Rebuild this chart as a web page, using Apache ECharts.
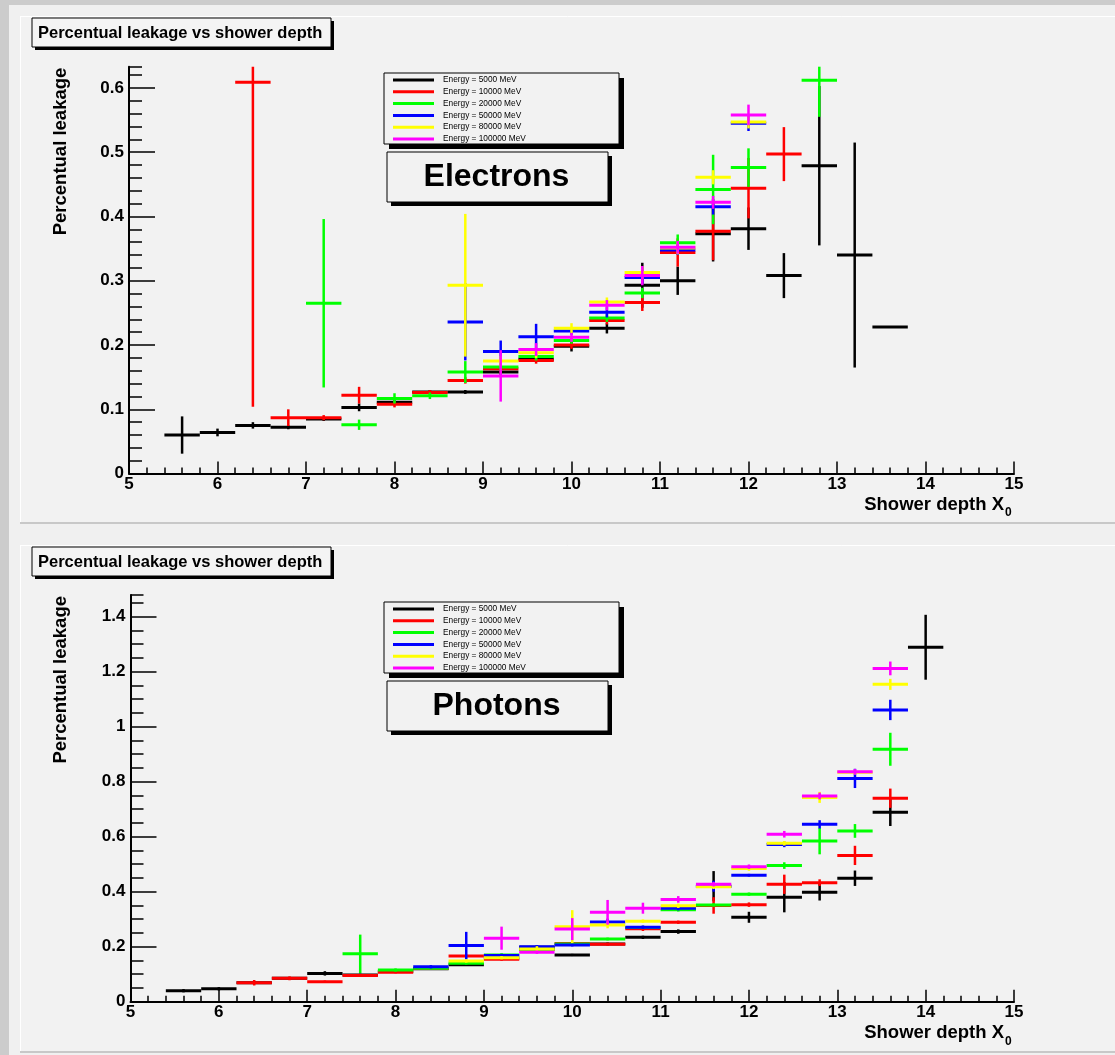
<!DOCTYPE html>
<html>
<head>
<meta charset="utf-8">
<script src="https://cdn.jsdelivr.net/npm/echarts@6/dist/echarts.min.js"></script>
<style>
  html, body { margin: 0; padding: 0; background: #cccccc; }
  #chart { width: 1115px; height: 1055px; }
</style>
</head>
<body>
<div id="chart"></div>
<script>
// Shower depth bin centres (radiation lengths); each bin is 0.4 X0 wide
const depthBins = [5.6, 6.0, 6.4, 6.8, 7.2, 7.6, 8.0, 8.4, 8.8, 9.2, 9.6, 10.0, 10.4, 10.8, 11.2, 11.6, 12.0, 12.4, 12.8, 13.2, 13.6, 14.0];
const binHalfWidth = 0.2;

const energyLabels = ['Energy = 5000 MeV', 'Energy = 10000 MeV', 'Energy = 20000 MeV', 'Energy = 50000 MeV', 'Energy = 80000 MeV', 'Energy = 100000 MeV'];
const energyColors = ['#000000', '#ff0000', '#00ff00', '#0000ff', '#ffff00', '#ff00ff'];

// Electrons: leakage fraction and its uncertainty per depth bin
const eleVal5000   = [0.060, 0.064, 0.075, 0.072, 0.085, 0.103, 0.111, 0.127, 0.127, 0.158, 0.178, 0.198, 0.226, 0.293, 0.300, 0.373, 0.381, 0.308, 0.479, 0.340, 0.228, null];
const eleErr5000   = [0.029, 0.006, 0.005, 0.003, 0.003, 0.006, 0.003, 0.003, 0.003, 0.005, 0.004, 0.008, 0.008, 0.035, 0.022, 0.043, 0.033, 0.035, 0.124, 0.175, 0.000, null];
const eleVal10000  = [null, null, 0.609, 0.087, 0.087, 0.122, 0.108, 0.126, 0.145, 0.163, 0.176, 0.200, 0.238, 0.266, 0.344, 0.377, 0.444, 0.497, null, null, null, null];
const eleErr10000  = [null, null, 0.505, 0.013, 0.004, 0.013, 0.005, 0.004, 0.005, 0.006, 0.005, 0.006, 0.006, 0.013, 0.022, 0.045, 0.047, 0.042, null, null, null, null];
const eleVal20000  = [null, null, null, null, 0.265, 0.076, 0.117, 0.121, 0.158, 0.166, 0.182, 0.207, 0.242, 0.281, 0.359, 0.442, 0.476, null, 0.612, null, null, null];
const eleErr20000  = [null, null, null, null, 0.131, 0.008, 0.008, 0.005, 0.017, 0.006, 0.006, 0.005, 0.006, 0.008, 0.013, 0.054, 0.030, null, 0.057, null, null, null];
const eleVal50000  = [null, null, null, null, null, null, null, null, 0.236, 0.190, 0.213, 0.222, 0.251, 0.305, 0.348, 0.415, 0.545, null, null, null, null, null];
const eleErr50000  = [null, null, null, null, null, null, null, null, 0.060, 0.017, 0.020, 0.006, 0.008, 0.010, 0.008, 0.012, 0.012, null, null, null, null, null];
const eleVal80000  = [null, null, null, null, null, null, null, null, 0.293, 0.175, 0.188, 0.226, 0.267, 0.313, 0.351, 0.461, 0.547, null, null, null, null, null];
const eleErr80000  = [null, null, null, null, null, null, null, null, 0.111, 0.008, 0.008, 0.008, 0.007, 0.010, 0.010, 0.011, 0.010, null, null, null, null, null];
const eleVal100000 = [null, null, null, null, null, null, null, null, null, 0.152, 0.193, 0.212, 0.262, 0.308, 0.352, 0.422, 0.558, null, null, null, null, null];
const eleErr100000 = [null, null, null, null, null, null, null, null, null, 0.040, 0.010, 0.007, 0.008, 0.015, 0.010, 0.010, 0.016, null, null, null, null, null];

// Photons: leakage fraction and its uncertainty per depth bin
const phoVal5000   = [0.040, 0.047, 0.069, 0.085, 0.103, 0.097, 0.110, 0.120, 0.134, 0.158, 0.198, 0.170, 0.210, 0.234, 0.255, 0.420, 0.307, 0.380, 0.398, 0.449, 0.689, 1.289];
const phoErr5000   = [0.006, 0.006, 0.005, 0.005, 0.008, 0.005, 0.004, 0.004, 0.004, 0.005, 0.008, 0.004, 0.005, 0.006, 0.008, 0.055, 0.020, 0.055, 0.030, 0.028, 0.050, 0.118];
const phoVal10000  = [null, null, 0.069, 0.085, 0.073, 0.095, 0.107, 0.121, 0.166, 0.154, 0.190, 0.212, 0.209, 0.265, 0.289, 0.350, 0.353, 0.427, 0.433, 0.532, 0.740, null];
const phoErr10000  = [null, null, 0.010, 0.007, 0.004, 0.005, 0.004, 0.004, 0.005, 0.005, 0.005, 0.005, 0.005, 0.008, 0.006, 0.030, 0.008, 0.035, 0.012, 0.035, 0.035, null];
const phoVal20000  = [null, null, null, null, null, 0.174, 0.115, 0.122, 0.140, 0.170, 0.190, 0.210, 0.228, 0.270, 0.334, 0.352, 0.391, 0.495, 0.584, 0.621, 0.918, null];
const phoErr20000  = [null, null, null, null, null, 0.070, 0.006, 0.004, 0.005, 0.006, 0.005, 0.005, 0.005, 0.006, 0.006, 0.006, 0.006, 0.012, 0.048, 0.025, 0.060, null];
const phoVal50000  = [null, null, null, null, null, null, null, 0.127, 0.204, 0.168, 0.200, 0.206, 0.290, 0.271, 0.340, 0.420, 0.460, 0.572, 0.645, 0.812, 1.061, null];
const phoErr50000  = [null, null, null, null, null, null, null, 0.006, 0.050, 0.006, 0.006, 0.005, 0.012, 0.006, 0.008, 0.020, 0.005, 0.010, 0.015, 0.035, 0.037, null];
const phoVal80000  = [null, null, null, null, null, null, null, null, 0.148, 0.160, 0.192, 0.273, 0.279, 0.293, 0.349, 0.418, 0.484, 0.576, 0.743, 0.834, 1.154, null];
const phoErr80000  = [null, null, null, null, null, null, null, null, 0.006, 0.006, 0.010, 0.060, 0.012, 0.006, 0.008, 0.008, 0.008, 0.008, 0.020, 0.008, 0.020, null];
const phoVal100000 = [null, null, null, null, null, null, null, null, null, 0.231, 0.180, 0.264, 0.325, 0.340, 0.372, 0.427, 0.491, 0.609, 0.748, 0.836, 1.212, null];
const phoErr100000 = [null, null, null, null, null, null, null, null, null, 0.042, 0.006, 0.040, 0.045, 0.020, 0.012, 0.008, 0.008, 0.012, 0.012, 0.010, 0.025, null];

// Axis ranges and tick labels
const xRange = [5, 15];
const xTickLabels = [5, 6, 7, 8, 9, 10, 11, 12, 13, 14, 15];
const eleYMax = 0.633;
const eleYTickLabels = [0, 0.1, 0.2, 0.3, 0.4, 0.5, 0.6];
const eleYMinorStep = 0.02;
const phoYMax = 1.479;
const phoYTickLabels = [0, 0.2, 0.4, 0.6, 0.8, 1.0, 1.2, 1.4];
const phoYMinorStep = 0.05;

const titleText = 'Percentual leakage vs shower depth';
const yTitle = 'Percentual leakage';
const xTitle = 'Shower depth X';
const xTitleSub = '0';

const eleValues = [eleVal5000, eleVal10000, eleVal20000, eleVal50000, eleVal80000, eleVal100000];
const eleErrors = [eleErr5000, eleErr10000, eleErr20000, eleErr50000, eleErr80000, eleErr100000];
const phoValues = [phoVal5000, phoVal10000, phoVal20000, phoVal50000, phoVal80000, phoVal100000];
const phoErrors = [phoErr5000, phoErr10000, phoErr20000, phoErr50000, phoErr80000, phoErr100000];

const FONT = '"Liberation Sans", Arial, Helvetica, sans-serif';

// Histogram-style points: horizontal bin width plus vertical error bar
function renderErrorBar(params, api) {
  const x = api.value(0), y = api.value(1), err = api.value(2);
  const cs = params.coordSys;
  const left = api.coord([x - binHalfWidth, y]);
  const right = api.coord([x + binHalfWidth, y]);
  const hi = api.coord([x, y + err]);
  const lo = api.coord([x, y - err]);
  const color = api.visual('color');
  const top = Math.max(hi[1], cs.y);
  const bottom = Math.min(lo[1], cs.y + cs.height);
  const children = [{
    type: 'line',
    shape: { x1: left[0], y1: left[1], x2: right[0], y2: right[1] },
    style: { stroke: color, lineWidth: 3 }
  }];
  if (err > 0) {
    children.push({
      type: 'line',
      shape: { x1: hi[0], y1: top, x2: lo[0], y2: bottom },
      style: { stroke: color, lineWidth: 2.5 }
    });
  }
  return { type: 'group', children: children };
}

function buildSeries(values, errors, gridIdx) {
  return values.map((vals, k) => ({
    type: 'custom',
    name: energyLabels[k],
    xAxisIndex: gridIdx,
    yAxisIndex: gridIdx * 2,
    color: energyColors[k],
    renderItem: renderErrorBar,
    encode: { x: 0, y: 1 },
    data: depthBins.map((c, i) => vals[i] == null ? null : [c, vals[i], errors[k][i]]).filter(d => d),
    z: 2 + k
  }));
}

function xAxisCfg(gridIdx) {
  return {
    type: 'value', gridIndex: gridIdx, min: xRange[0], max: xRange[1], interval: 1,
    axisLine: { show: true, onZero: false, lineStyle: { color: '#000', width: 2 } },
    axisTick: { show: true, inside: true, length: 12, lineStyle: { color: '#000', width: 1.5 } },
    minorTick: { show: true, splitNumber: 5, length: 6, lineStyle: { color: '#000', width: 1.5 } },
    axisLabel: { margin: 2, color: '#000', fontSize: 17, fontWeight: 'bold', fontFamily: FONT,
                 customValues: xTickLabels },
    splitLine: { show: false }, minorSplitLine: { show: false }
  };
}

function yAxesCfg(gridIdx, yMax, ticks, minorStep) {
  return [{
    type: 'value', gridIndex: gridIdx, min: 0, max: yMax, position: 'left',
    axisLine: { show: true, onZero: false, lineStyle: { color: '#000', width: 2 } },
    axisTick: { show: true, inside: true, length: 26, customValues: ticks, lineStyle: { color: '#000', width: 1.5 } },
    axisLabel: { margin: 5, color: '#000', fontSize: 17, fontWeight: 'bold', fontFamily: FONT, customValues: ticks },
    splitLine: { show: false }
  }, {
    type: 'value', gridIndex: gridIdx, min: 0, max: yMax, interval: minorStep, position: 'left', offset: 0,
    axisLine: { show: false },
    axisTick: { show: true, inside: true, length: 13, lineStyle: { color: '#000', width: 1.5 } },
    axisLabel: { show: false },
    splitLine: { show: false }
  }];
}

// Pad decoration: background, title box, legend, particle label, axis titles
function padGraphics(padTop, gridTop, gridBottom, particle) {
  const els = [];
  els.push({ type: 'rect', z: 0, shape: { x: 20, y: padTop, width: 1095, height: 507 }, style: { fill: '#f2f2f2' } });
  els.push({ type: 'line', z: 0, shape: { x1: 20, y1: padTop + 0.5, x2: 1115, y2: padTop + 0.5 }, style: { stroke: '#ffffff', lineWidth: 1 } });
  els.push({ type: 'line', z: 0, shape: { x1: 20.5, y1: padTop, x2: 20.5, y2: padTop + 507 }, style: { stroke: '#ffffff', lineWidth: 1 } });
  els.push({ type: 'line', z: 0, shape: { x1: 20, y1: padTop + 507, x2: 1115, y2: padTop + 507 }, style: { stroke: '#c8c8c8', lineWidth: 2 } });

  // title box with offset shadow
  const tb = { x: 32, y: padTop + 2, w: 299, h: 29 };
  els.push({ type: 'rect', z: 50, shape: { x: tb.x + 3, y: tb.y + 3, width: tb.w, height: tb.h }, style: { fill: '#000' } });
  els.push({ type: 'rect', z: 51, shape: { x: tb.x, y: tb.y, width: tb.w, height: tb.h }, style: { fill: '#f4f4f4', stroke: '#000', lineWidth: 1 } });
  els.push({ type: 'text', z: 52, x: tb.x + 6, y: tb.y + 15.5,
    style: { text: titleText, font: 'bold 16.5px ' + FONT, fill: '#000', align: 'left', verticalAlign: 'middle' } });

  // legend box
  const lb = { x: 384, y: padTop + 57, w: 235, h: 71 };
  els.push({ type: 'rect', z: 50, shape: { x: lb.x + 5, y: lb.y + 5, width: lb.w, height: lb.h }, style: { fill: '#000' } });
  els.push({ type: 'rect', z: 51, shape: { x: lb.x, y: lb.y, width: lb.w, height: lb.h }, style: { fill: '#f2f2f2', stroke: '#000', lineWidth: 1 } });
  energyLabels.forEach((lab, k) => {
    const yy = lb.y + 7 + k * 11.8;
    els.push({ type: 'line', z: 52, shape: { x1: lb.x + 9, y1: yy, x2: lb.x + 50, y2: yy }, style: { stroke: energyColors[k], lineWidth: 3 } });
    els.push({ type: 'text', z: 52, x: lb.x + 59, y: yy,
      style: { text: lab, font: '8.3px ' + FONT, fill: '#000', align: 'left', verticalAlign: 'middle' } });
  });

  // particle label box
  const pb = { x: 387, y: padTop + 136, w: 221, h: 50 };
  els.push({ type: 'rect', z: 50, shape: { x: pb.x + 4, y: pb.y + 4, width: pb.w, height: pb.h }, style: { fill: '#000' } });
  els.push({ type: 'rect', z: 51, shape: { x: pb.x, y: pb.y, width: pb.w, height: pb.h }, style: { fill: '#f2f2f2', stroke: '#000', lineWidth: 1 } });
  els.push({ type: 'text', z: 52, x: pb.x + pb.w / 2 - 1, y: pb.y + 25,
    style: { text: particle, font: 'bold 32px ' + FONT, fill: '#000', align: 'center', verticalAlign: 'middle' } });

  // axis titles
  els.push({ type: 'text', z: 52, x: 61, y: gridTop + 1, rotation: Math.PI / 2,
    style: { text: yTitle, font: 'bold 18.5px ' + FONT, fill: '#000', align: 'right', verticalAlign: 'middle' } });
  els.push({ type: 'text', z: 52, x: 1004, y: gridBottom + 31,
    style: { text: xTitle, font: 'bold 18.5px ' + FONT, fill: '#000', align: 'right', verticalAlign: 'middle' } });
  els.push({ type: 'text', z: 52, x: 1005, y: gridBottom + 39.5,
    style: { text: xTitleSub, font: 'bold 12px ' + FONT, fill: '#000', align: 'left', verticalAlign: 'middle' } });
  return els;
}

const grid0 = { top: 66.7, bottom: 473.6 };
const grid1 = { top: 595, bottom: 1001.7 };

const chart = echarts.init(document.getElementById('chart'), null, { renderer: 'canvas' });
chart.setOption({
  animation: false,
  backgroundColor: '#cccccc',
  grid: [
    { left: 129, top: grid0.top, width: 885, height: grid0.bottom - grid0.top, show: true, borderColor: '#222', borderWidth: 1, backgroundColor: 'transparent', containLabel: false },
    { left: 130.5, top: grid1.top, width: 883.5, height: grid1.bottom - grid1.top, show: true, borderColor: '#222', borderWidth: 1, backgroundColor: 'transparent', containLabel: false }
  ],
  xAxis: [xAxisCfg(0), xAxisCfg(1)],
  yAxis: yAxesCfg(0, eleYMax, eleYTickLabels, eleYMinorStep).concat(yAxesCfg(1, phoYMax, phoYTickLabels, phoYMinorStep)),
  graphic: {
    elements: [{ type: 'rect', z: -1, shape: { x: 9, y: 5, width: 1106, height: 1050 }, style: { fill: '#f0f0f0' } }]
      .concat(padGraphics(16, grid0.top, grid0.bottom, 'Electrons'))
      .concat(padGraphics(545, grid1.top, grid1.bottom, 'Photons'))
  },
  series: buildSeries(eleValues, eleErrors, 0).concat(buildSeries(phoValues, phoErrors, 1))
});
</script>
</body>
</html>
